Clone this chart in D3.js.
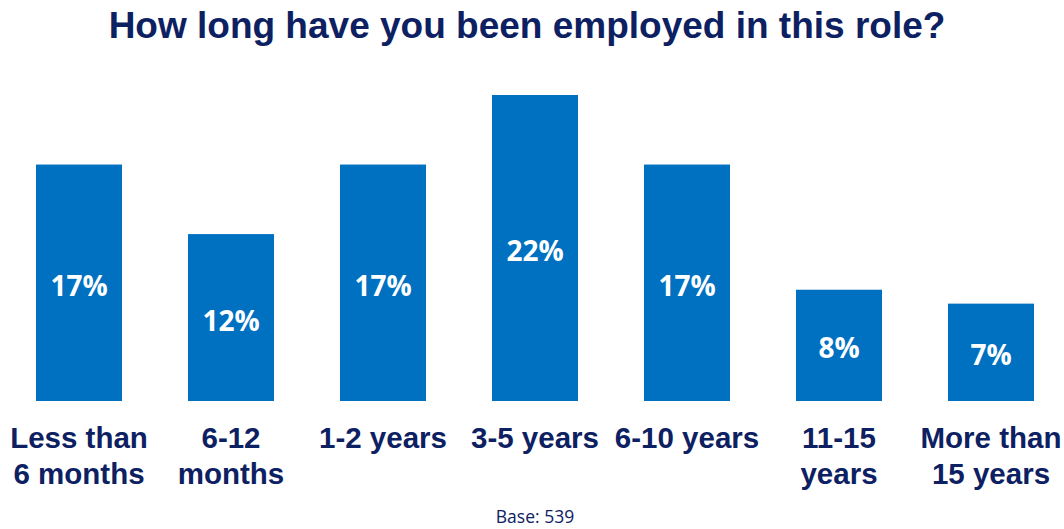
<!DOCTYPE html>
<html>
<head>
<meta charset="utf-8">
<script src="https://cdn.jsdelivr.net/npm/d3@7"></script>
<style>
  body { margin: 0; background: #fff; }
  svg { display: block; }
</style>
</head>
<body>
<div id="chart-area"></div>
<script>
// chart data
let categories = [["Less than", "6 months"], ["6-12", "months"], ["1-2 years"], ["3-5 years"], ["6-10 years"], ["11-15", "years"], ["More than", "15 years"]];
let values = [17, 12, 17, 22, 17, 8, 7];
let titleText = "How long have you been employed in this role?";
let baseText = "Base: 539";

let width = 1064, height = 529;
let navy = "#0d2162", barColor = "#0070c0";

let svg = d3.select("#chart-area").append("svg")
    .attr("width", width)
    .attr("height", height);

let data = values.map((v, i) => ({ key: i, label: categories[i], value: v }));

let x = d3.scaleBand()
    .domain(data.map(d => d.key))
    .range([3, 1067])
    .paddingInner(0.434)
    .paddingOuter(0.217);

let y = d3.scaleLinear()
    .domain([0, d3.max(values)])
    .range([401, 95]);

// title
svg.append("text")
    .attr("x", 527)
    .attr("y", 38)
    .attr("text-anchor", "middle")
    .attr("font-family", "'Liberation Sans', Arial, sans-serif")
    .attr("font-weight", "bold")
    .attr("font-size", 37)
    .attr("fill", navy)
    .text(titleText);

// bars
svg.selectAll(".bar")
    .data(data)
    .enter()
    .append("rect")
    .attr("class", "bar")
    .attr("x", d => x(d.key))
    .attr("y", d => y(d.value))
    .attr("width", x.bandwidth())
    .attr("height", d => y(0) - y(d.value))
    .attr("fill", barColor);

// value labels in the middle of each bar
svg.selectAll(".val")
    .data(data)
    .enter()
    .append("text")
    .attr("class", "val")
    .attr("x", d => x(d.key) + x.bandwidth() / 2)
    .attr("y", d => (y(d.value) + y(0)) / 2 + 13)
    .attr("text-anchor", "middle")
    .attr("font-family", "'Open Sans', sans-serif")
    .attr("font-weight", "bold")
    .attr("font-size", 28)
    .attr("fill", "#fff")
    .text(d => d.value + "%");

// category axis (no line, no ticks)
let xAxis = d3.axisBottom(x).tickSize(0).tickFormat("");
let xAxisGroup = svg.append("g")
    .attr("class", "x-axis")
    .attr("transform", "translate(0," + y(0) + ")")
    .call(xAxis);
xAxisGroup.select(".domain").remove();

xAxisGroup.selectAll(".tick text")
    .attr("y", 47)
    .attr("dy", null)
    .attr("font-family", "'Liberation Sans', Arial, sans-serif")
    .attr("font-weight", "bold")
    .attr("font-size", 29.5)
    .attr("fill", navy)
    .each(function(k) {
        let t = d3.select(this);
        data[k].label.forEach((line, i) => {
            t.append("tspan")
                .attr("x", 0)
                .attr("dy", i == 0 ? 0 : 36)
                .text(line);
        });
    });

// base note
svg.append("text")
    .attr("x", 535)
    .attr("y", 523)
    .attr("text-anchor", "middle")
    .attr("font-family", "'Open Sans', sans-serif")
    .attr("font-size", 17.5)
    .attr("fill", navy)
    .text(baseText);
</script>
</body>
</html>
